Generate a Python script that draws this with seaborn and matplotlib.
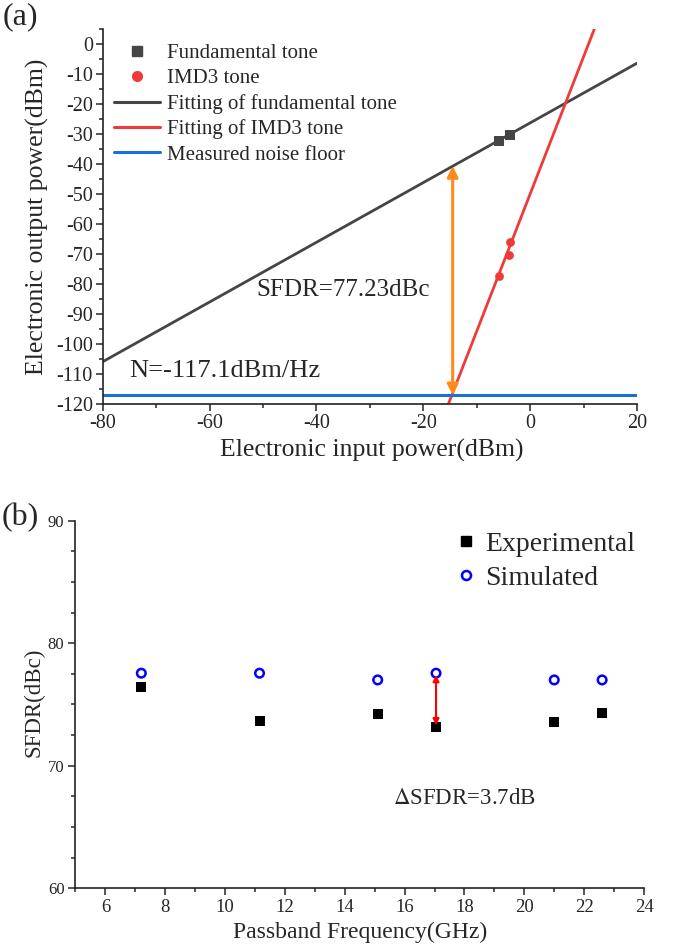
import matplotlib
matplotlib.use("Agg")
import matplotlib.pyplot as plt
import seaborn as sns
import pandas as pd
from matplotlib.lines import Line2D
from matplotlib.ticker import MultipleLocator

sns.set_style("ticks")
plt.rcParams['font.family'] = ['Liberation Serif', 'DejaVu Serif']
plt.rcParams['axes.unicode_minus'] = False
plt.rcParams['mathtext.fontset'] = 'stix'

# ---------------- data: panel (a) ----------------
fund_in = [-5.9, -3.85]
fund_out = [-32.4, -30.3]
imd_in = [-5.9, -4.05, -3.75]
imd_out = [-77.3, -70.3, -65.9]
fund_fit_in = [-80, 20]
fund_fit_out = [-105.9, -6.3]
imd_fit_in = [-16.0, 13.0]
imd_fit_out = [-123.2, 9.6]
noise_in = [-80, 20]
noise_out = [-117.1, -117.1]
sfdr_arrow_x = -14.5
sfdr_arrow_top = -40.6
sfdr_arrow_bottom = -117.1
a_xticks = [-80, -60, -40, -20, 0, 20]
a_yticks = list(range(0, -121, -10))

# ---------------- data: panel (b) ----------------
freq = [7.2, 11.15, 15.1, 17.05, 21.0, 22.6]
sfdr_exp = [76.4, 73.65, 74.25, 73.15, 73.55, 74.3]
sfdr_sim = [77.55, 77.55, 77.0, 77.55, 77.0, 77.0]
b_xticks = [6, 8, 10, 12, 14, 16, 18, 20, 22, 24]
b_yticks = [60, 70, 80, 90]

GRAY = '#454545'
RED = '#F03A3A'
BLUE = '#1C6ED8'
ORANGE = '#FF8C1A'

fig = plt.figure(figsize=(6.74, 9.49), dpi=100)
axa = fig.add_axes([0.1524, 0.5743, 0.7927, 0.3948])
axb = fig.add_axes([0.112, 0.064, 0.8435, 0.3874])

# ---- panel (a)
df_fund = pd.DataFrame({'x': fund_in, 'y': fund_out})
df_imd = pd.DataFrame({'x': imd_in, 'y': imd_out})
sns.lineplot(x=fund_fit_in, y=fund_fit_out, ax=axa, color=GRAY, lw=2.0, sort=False, zorder=2)
sns.lineplot(x=imd_fit_in, y=imd_fit_out, ax=axa, color=RED, lw=2.0, sort=False, zorder=2)
sns.lineplot(x=noise_in, y=noise_out, ax=axa, color=BLUE, lw=2.2, sort=False, zorder=2)
sns.scatterplot(data=df_fund, x='x', y='y', ax=axa, marker='s', s=45, color=GRAY,
                edgecolor=GRAY, linewidth=0, zorder=3)
sns.scatterplot(data=df_imd, x='x', y='y', ax=axa, marker='o', s=40, color=RED,
                edgecolor=RED, linewidth=0, zorder=3)
axa.annotate('', xy=(sfdr_arrow_x, sfdr_arrow_top), xytext=(sfdr_arrow_x, sfdr_arrow_bottom),
             arrowprops=dict(arrowstyle='<|-|>', color=ORANGE, lw=2.2, mutation_scale=16,
                             shrinkA=0, shrinkB=0), zorder=4)
axa.text(-51.2, -82, 'SFDR=77.23dBc', fontsize=18, va='center', ha='left')
axa.text(-75.0, -109, 'N=-117.1dBm/Hz', fontsize=19, va='center', ha='left')

axa.set_xlim(-80, 20)
axa.set_ylim(-120, 5)
axa.set_xticks(a_xticks)
axa.set_yticks(a_yticks)
axa.xaxis.set_minor_locator(MultipleLocator(10))
axa.yaxis.set_minor_locator(MultipleLocator(5))
axa.tick_params(axis='both', which='major', labelsize=14.5, length=5, width=1.1, direction='out', pad=2)
axa.tick_params(axis='both', which='minor', length=3, width=1.1, direction='out')
for s in ['top', 'right']:
    axa.spines[s].set_visible(False)
for s in ['left', 'bottom']:
    axa.spines[s].set_linewidth(1.2)
    axa.spines[s].set_color('#222222')
axa.set_xlabel('Electronic input power(dBm)', fontsize=18.5)
axa.set_ylabel('Electronic output power(dBm)', fontsize=18.5)
axa.xaxis.set_label_coords(0.503, -0.123)
axa.xaxis.label.set_va('center')
axa.yaxis.set_label_coords(-0.122, 0.50)
axa.yaxis.label.set_va('center')

handles_a = [
    Line2D([], [], ls='none', marker='s', ms=7, color=GRAY),
    Line2D([], [], ls='none', marker='o', ms=7, color=RED),
    Line2D([], [], color=GRAY, lw=2.2),
    Line2D([], [], color=RED, lw=2.2),
    Line2D([], [], color=BLUE, lw=2.2),
]
labels_a = ['Fundamental tone', 'IMD3 tone', 'Fitting of fundamental tone',
            'Fitting of IMD3 tone', 'Measured noise floor']
axa.legend(handles_a, labels_a, loc='upper left', bbox_to_anchor=(0.022, 0.962),
           frameon=False, fontsize=15, handlelength=2.2, handletextpad=0.3,
           labelspacing=0.27, borderpad=0, borderaxespad=0)

# ---- panel (b)
df_b = pd.DataFrame({'freq': freq, 'exp': sfdr_exp, 'sim': sfdr_sim})
sns.scatterplot(data=df_b, x='freq', y='exp', ax=axb, marker='s', s=42, color='black',
                edgecolor='black', linewidth=0, zorder=3)
sns.scatterplot(data=df_b, x='freq', y='sim', ax=axb, marker='o', s=38, facecolor='none',
                edgecolor='#0000FF', linewidth=1.8, zorder=3)
i_arrow = 3
axb.annotate('', xy=(freq[i_arrow], sfdr_sim[i_arrow] - 0.15), xytext=(freq[i_arrow], sfdr_exp[i_arrow] + 0.15),
             arrowprops=dict(arrowstyle='<|-|>', color='#FF0000', lw=1.5, mutation_scale=9,
                             shrinkA=0, shrinkB=0), zorder=4)
axb.text(18.0, 67.3, r'$\Delta$SFDR=3.7dB', fontsize=16.5, va='center', ha='center')

axb.set_xlim(5, 24)
axb.set_ylim(60, 90)
axb.set_xticks(b_xticks)
axb.set_yticks(b_yticks)
axb.xaxis.set_minor_locator(MultipleLocator(1))
axb.yaxis.set_minor_locator(MultipleLocator(2.5))
axb.tick_params(axis='x', which='major', labelsize=13.5, length=5, width=1.1, direction='out', pad=3)
axb.tick_params(axis='y', which='major', labelsize=12, length=5, width=1.1, direction='out', pad=3)
axb.tick_params(axis='both', which='minor', length=3, width=1.1, direction='out')
for s in ['top', 'right']:
    axb.spines[s].set_visible(False)
for s in ['left', 'bottom']:
    axb.spines[s].set_linewidth(1.2)
    axb.spines[s].set_color('#222222')
axb.set_xlabel('Passband Frequency(GHz)', fontsize=17)
axb.set_ylabel('SFDR(dBc)', fontsize=16.5)
axb.xaxis.set_label_coords(0.50, -0.119)
axb.xaxis.label.set_va('center')
axb.yaxis.set_label_coords(-0.073, 0.507)
axb.yaxis.label.set_va('center')

handles_b = [
    Line2D([], [], ls='none', marker='s', ms=6.5, color='black'),
    Line2D([], [], ls='none', marker='o', ms=6.5, markerfacecolor='none',
           markeredgecolor='#0000FF', markeredgewidth=1.8),
]
axb.legend(handles_b, ['Experimental', 'Simulated'], loc='upper left',
           bbox_to_anchor=(0.6675, 0.97), frameon=False, fontsize=20,
           handlelength=0.8, handletextpad=0.28, labelspacing=0.31,
           borderpad=0, borderaxespad=0)

fig.text(0.004, 0.998, '(a)', fontsize=23, va='top', ha='left')
fig.text(0.002, 0.470, '(b)', fontsize=23, va='top', ha='left')

fig.savefig('out.png', dpi=100)
